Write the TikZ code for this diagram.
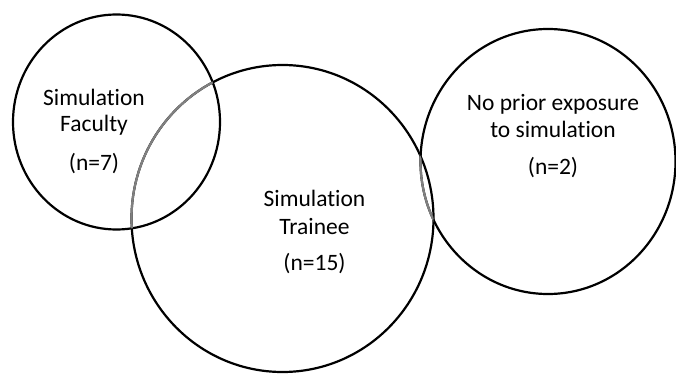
\documentclass[tikz,border=0pt]{standalone}
\usepackage{fontspec}
\setmainfont{Carlito}[Ligatures={NoCommon},Contextuals={NoAlternate}]
\usetikzlibrary{shapes.geometric}
\begin{document}
\begin{tikzpicture}[x=1pt,y=-1pt,
  ring/.style={draw=black,line width=2.2pt,ellipse,inner sep=0pt},
  lbl/.style={anchor=base,inner sep=0pt,font=\fontsize{23.5}{28}\selectfont},
  overlap/.style={draw=black!50,line width=2.2pt}]
\useasboundingbox (0,0) rectangle (676,374);
\node[ring,minimum width=207pt,minimum height=215pt] (fac) at (116.5,122) {};
\node[ring,minimum width=302pt,minimum height=307pt] (tra) at (282.5,218.5) {};
\node[ring,minimum width=255pt,minimum height=265pt] (nop) at (548,161.5) {};
\begin{scope}
  \clip (116.5,122) ellipse [x radius=103.5, y radius=107.5];
  \draw[overlap] (282.5,218.5) ellipse [x radius=151, y radius=153.5];
\end{scope}
\begin{scope}
  \clip (282.5,218.5) ellipse [x radius=151, y radius=153.5];
  \draw[overlap] (548,161.5) ellipse [x radius=127.5, y radius=132.5];
\end{scope}
\node[lbl] (f1) at (94,105.7) {Simulat\kern0pt ion};
\node[lbl] (f2) at (94,131.7) {Faculty};
\node[lbl] (f3) at (94,170) {(n=7)};
\node[lbl] (t1) at (314.5,206.7) {Simulat\kern0pt ion};
\node[lbl] (t2) at (314.5,234) {Trainee};
\node[lbl] (t3) at (314.5,270) {(n=15)};
\node[lbl] (p1) at (553,111) {No prior exposure};
\node[lbl] (p2) at (553,137.7) {to simulat\kern0pt ion};
\node[lbl] (p3) at (553,174) {(n=2)};
\end{tikzpicture}
\end{document}
